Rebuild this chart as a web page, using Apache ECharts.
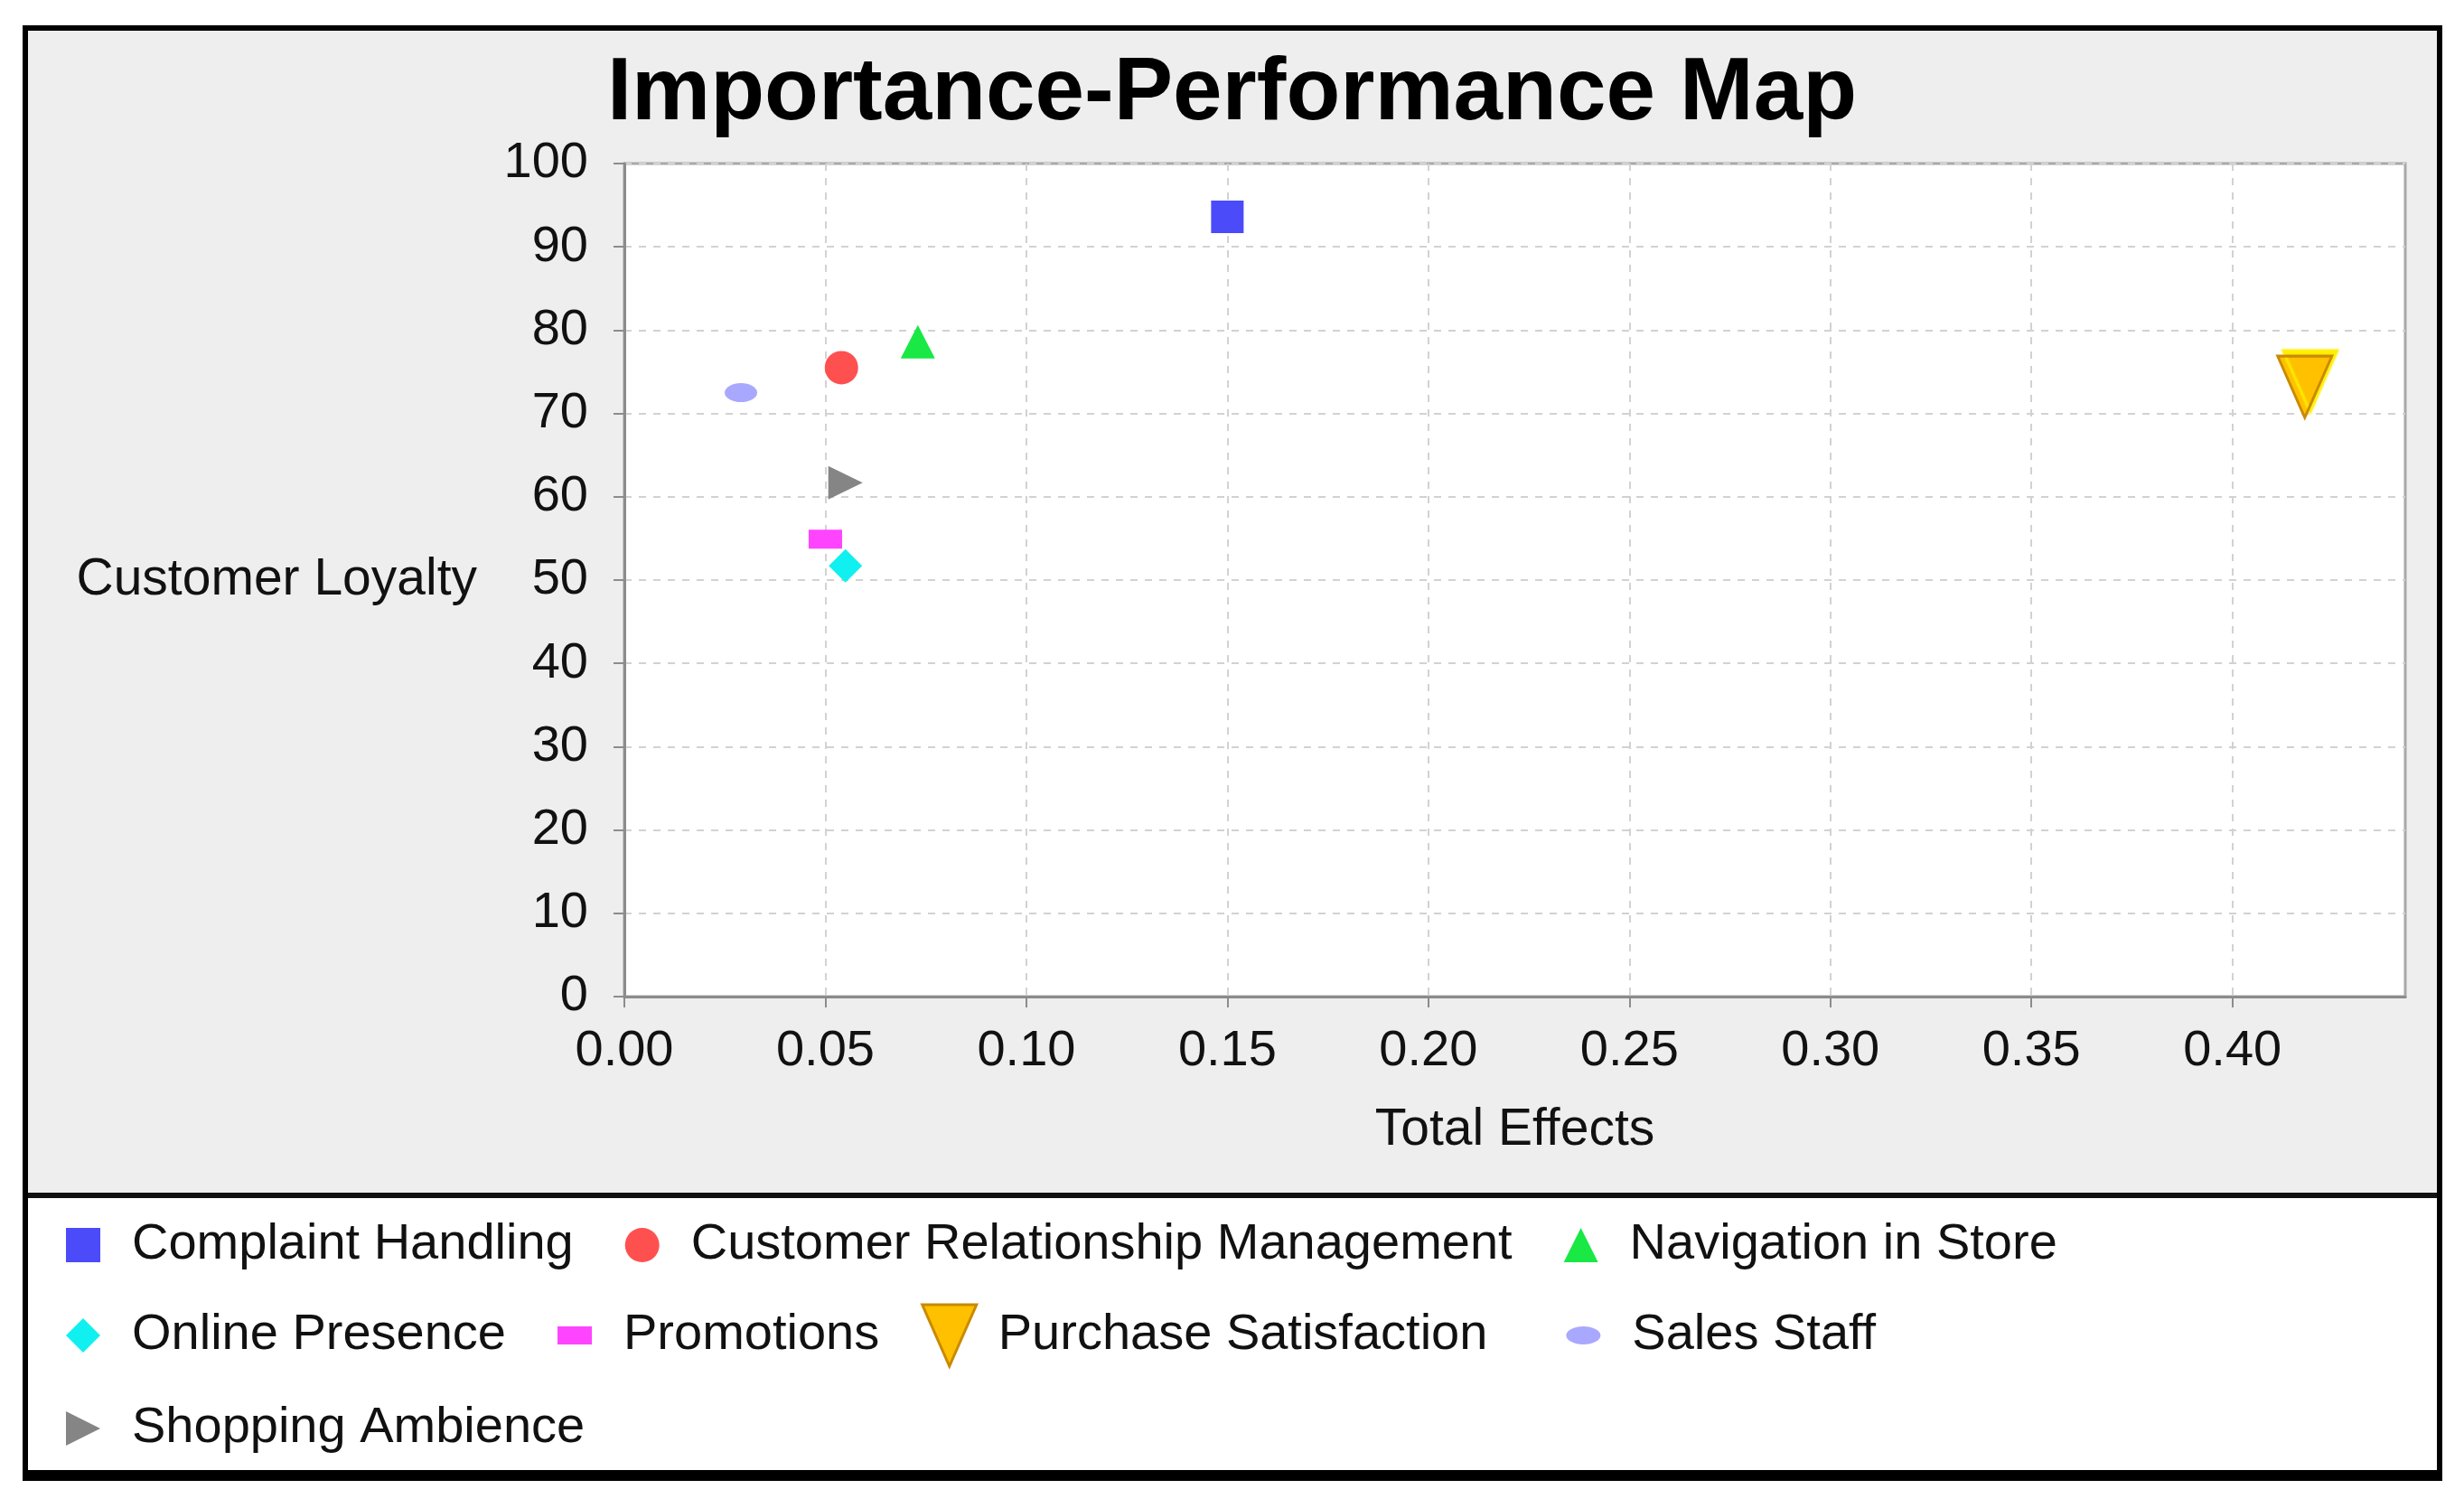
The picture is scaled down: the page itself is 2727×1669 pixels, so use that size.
<!DOCTYPE html>
<html>
<head>
<meta charset="utf-8">
<style>
html,body{margin:0;padding:0;background:#fff;}
#chart{width:2727px;height:1669px;}
</style>
<script src="https://cdn.jsdelivr.net/npm/echarts@6/dist/echarts.min.js"></script>
</head>
<body>
<div id="chart"></div>
<script>
// ---- data ----
const categories = ['Complaint Handling','Customer Relationship Management','Navigation in Store','Online Presence','Promotions','Purchase Satisfaction','Sales Staff','Shopping Ambience'];
const totalEffects = [0.150, 0.054, 0.073, 0.055, 0.050, 0.418, 0.029, 0.055];
const loyalty = [93.6, 75.5, 78.6, 51.7, 54.9, 73.2, 72.5, 61.7];
const xTicks = [0, 0.05, 0.10, 0.15, 0.20, 0.25, 0.30, 0.35, 0.40];
const yTicks = [0, 10, 20, 30, 40, 50, 60, 70, 80, 90, 100];

// ---- styles ----
const FONT = 'Liberation Sans, Arial, sans-serif';
const colors = ['#4B4BFA','#FF5050','#19E845','#11F0F0','#FF44FF','#FFC000','#A8A8FF','#858585'];
const symbols = ['rect','circle','triangle','diamond','rect',
  'path://M0 0 H60 L30 68 Z',
  'path://M0 10 A18 10 0 1 1 36 10 A18 10 0 1 1 0 10 Z',
  'path://M0 0 L38 19 L0 38 Z'];
const sizes = [[36,36],[37,37],[38,37],[37,37],[37,21],[60,68],[36,21],[38,37]];
const legendIcons = [
  'path://M0 0M80 72M29 17H67V55H29Z',
  'path://M0 0M80 72M29 36A19 19 0 1 1 67 36A19 19 0 1 1 29 36Z',
  'path://M0 0M80 72M48 17L67 55L29 55Z',
  'path://M0 0M80 72M48 17L67 36L48 55L29 36Z',
  'path://M0 0M80 72M29 26H67V46H29Z',
  'path://M0 0M80 72M18 2H78L48 70Z',
  'path://M0 0M80 72M29 36A19 10 0 1 1 67 36A19 10 0 1 1 29 36Z',
  'path://M0 0M80 72M29 17L67 36L29 55Z'
];

const series = categories.map((name, i) => {
  const s = {
    name: name,
    type: 'scatter',
    data: [[totalEffects[i], loyalty[i]]],
    symbol: symbols[i],
    symbolSize: sizes[i],
    symbolKeepAspect: false,
    itemStyle: { color: colors[i], opacity: 1 },
    emphasis: { disabled: true },
    z: 3
  };
  if (name === 'Purchase Satisfaction') {
    s.itemStyle.borderColor = '#C98A00';
    s.itemStyle.borderWidth = 3;
    s.itemStyle.shadowColor = '#FFEE00';
    s.itemStyle.shadowBlur = 2;
    s.itemStyle.shadowOffsetX = 6;
    s.itemStyle.shadowOffsetY = -6;
  }
  return s;
});

const chart = echarts.init(document.getElementById('chart'), null, {renderer: 'canvas'});
chart.setOption({
  animation: false,
  backgroundColor: '#ffffff',
  textStyle: { fontFamily: FONT },
  graphic: { elements: [
    { type: 'rect', z: -100, shape: { x: 28, y: 31, width: 2672, height: 1292 }, style: { fill: '#EEEEEE' } },
    { type: 'rect', z: -100, shape: { x: 28, y: 1323, width: 2672, height: 310 }, style: { fill: '#FFFFFF' } },
    { type: 'line', z: -99, shape: { x1: 28, y1: 1323, x2: 2700, y2: 1323 }, style: { stroke: '#111', lineWidth: 6 } },
    { type: 'rect', z: -99, shape: { x: 28, y: 31, width: 2672, height: 1602 }, style: { fill: null, stroke: '#000', lineWidth: 6 } },
    { type: 'line', z: -99, shape: { x1: 25, y1: 1633, x2: 2703, y2: 1633 }, style: { stroke: '#000', lineWidth: 12 } }
  ]},
  title: {
    text: 'Importance-Performance Map',
    left: 'center',
    top: 51,
    textStyle: { fontFamily: FONT, fontSize: 98, fontWeight: 'bold', color: '#000' }
  },
  legend: {
    left: 44,
    top: 1342,
    width: 2620,
    padding: 0,
    itemWidth: 80,
    itemHeight: 72,
    itemGap: 28,
    symbolKeepAspect: false,
    selectedMode: false,
    textStyle: { fontFamily: FONT, fontSize: 56, color: '#111', padding: [4, 0, 0, 17] },
    data: categories.map((name, i) => {
      const d = { name: name, icon: legendIcons[i] };
      if (name === 'Purchase Satisfaction') {
        d.itemStyle = { shadowColor: 'rgba(0,0,0,0)', shadowBlur: 0, shadowOffsetX: 0, shadowOffsetY: 0, borderColor: '#C98A00', borderWidth: 3 };
        d.textStyle = { padding: [4, 30, 0, 17], backgroundColor: 'rgba(255,255,255,0.01)' };
      }
      return d;
    })
  },
  grid: {
    left: 691, right: 65, top: 181, bottom: 566,
    show: true,
    backgroundColor: '#FFFFFF',
    borderColor: '#A8A8A8',
    borderWidth: 3
  },
  xAxis: {
    type: 'value',
    min: 0, max: 0.443, interval: 0.05,
    name: 'Total Effects',
    nameLocation: 'middle',
    nameGap: 120,
    nameTextStyle: { fontFamily: FONT, fontSize: 57, color: '#111' },
    axisLine: { show: true, onZero: false, lineStyle: { color: '#8C8C8C', width: 3 } },
    axisTick: { show: true, length: 12, customValues: xTicks, lineStyle: { color: '#8C8C8C', width: 2 } },
    axisLabel: { customValues: xTicks, formatter: v => v.toFixed(2), fontFamily: FONT, fontSize: 56, color: '#111', margin: 33 },
    splitLine: { show: true, lineStyle: { type: [8, 8], color: '#D2D2D2', width: 2 } }
  },
  yAxis: {
    type: 'value',
    min: 0, max: 100, interval: 10,
    name: 'Customer Loyalty',
    nameLocation: 'middle',
    nameRotate: 0,
    nameGap: 163,
    nameTextStyle: { fontFamily: FONT, fontSize: 57, color: '#111', padding: [30, 0, 0, 0] },
    axisLine: { show: true, onZero: false, lineStyle: { color: '#8C8C8C', width: 3 } },
    axisTick: { show: true, length: 12, customValues: yTicks, lineStyle: { color: '#8C8C8C', width: 2 } },
    axisLabel: { customValues: yTicks, fontFamily: FONT, fontSize: 56, color: '#111', margin: 40, padding: [22, 0, 0, 0] },
    splitLine: { show: true, lineStyle: { type: [8, 8], color: '#D2D2D2', width: 2 } }
  },
  series: series
});
</script>
</body>
</html>
